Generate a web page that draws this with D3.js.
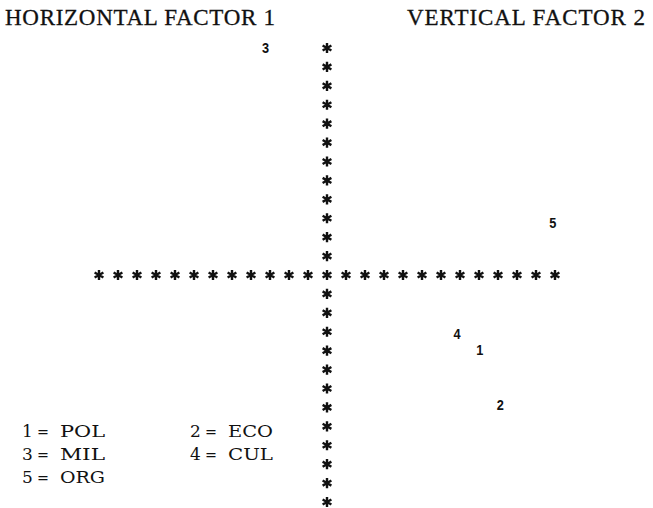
<!DOCTYPE html>
<html><head><meta charset="utf-8">
<script src="https://cdn.jsdelivr.net/npm/d3@7"></script>
<style>body{margin:0;background:#fff}svg{display:block}</style>
</head><body>
<svg id="c" width="653" height="508"></svg>
<script>
// Data: factor positions (horizontal factor 1, vertical factor 2)
const ids = ["1", "2", "3", "4", "5"];
const factor1 = [0.67, 0.76, -0.27, 0.57, 0.99];
const factor2 = [-0.33, -0.57, 1.00, -0.26, 0.23];
const legendNames = ["POL", "ECO", "MIL", "CUL", "ORG"];
const axisSteps = 12; // asterisks per half-axis
const titles = ["HORIZONTAL FACTOR 1", "VERTICAL FACTOR 2"];

const svg = d3.select("#c");
const x = d3.scaleLinear().domain([-1, 1]).range([99, 555]);
const y = d3.scaleLinear().domain([-1, 1]).range([502, 48]);

const ticks = d3.range(-axisSteps, axisSteps + 1).map(i => i / axisSteps);
const star = d3.symbol().type(d3.symbolAsterisk).size(72);

const g = svg.append("g");
g.selectAll(".h").data(ticks).join("path")
  .attr("d", star).attr("transform", d => `translate(${x(d)},${y(0)})`)
  .attr("fill", "none").attr("stroke", "#111").attr("stroke-width", 2.4);
g.selectAll(".v").data(ticks.filter(d => d !== 0)).join("path")
  .attr("d", star).attr("transform", d => `translate(${x(0)},${y(d)})`)
  .attr("fill", "none").attr("stroke", "#111").attr("stroke-width", 2.4);

// points
svg.selectAll(".pt").data(ids).join("text")
  .attr("transform", (d, i) => `translate(${x(factor1[i])},${y(factor2[i])}) scale(0.85,1)`)
  .attr("text-anchor", "middle").attr("dy", "0.36em")
  .attr("font-family", "'Liberation Sans',Arial,sans-serif")
  .attr("font-weight", "bold").attr("font-size", 15).attr("fill", "#111")
  .text(d => d);

// titles
const serif = "'Liberation Serif','DejaVu Serif',serif";
svg.append("text").attr("x", 5).attr("y", 25).attr("font-family", serif)
  .attr("font-size", 23).attr("fill", "#111").attr("stroke", "#111").attr("stroke-width", 0.3)
  .attr("textLength", 270).attr("lengthAdjust", "spacing").text(titles[0]);
svg.append("text").attr("x", 407).attr("y", 25).attr("font-family", serif)
  .attr("font-size", 23).attr("fill", "#111").attr("stroke", "#111").attr("stroke-width", 0.3)
  .attr("textLength", 238).attr("lengthAdjust", "spacing").text(titles[1]);

// legend
const legX = [22, 190], legY = [437, 460, 483];
const leg = svg.append("g").attr("font-family", "'DejaVu Serif','Liberation Serif',serif")
  .attr("font-size", 17).attr("fill", "#111");
ids.forEach((id, i) => {
  const cx = legX[i % 2], cy = legY[Math.floor(i / 2)];
  leg.append("text").attr("x", cx).attr("y", cy).text(id);
  leg.append("text").attr("x", cx + 15).attr("y", cy).attr("textLength", 12).attr("lengthAdjust", "spacingAndGlyphs").text("=");
  leg.append("text").attr("x", cx + 38).attr("y", cy)
    .attr("textLength", 45).attr("lengthAdjust", "spacingAndGlyphs").text(legendNames[i]);
});
</script>
</body></html>
